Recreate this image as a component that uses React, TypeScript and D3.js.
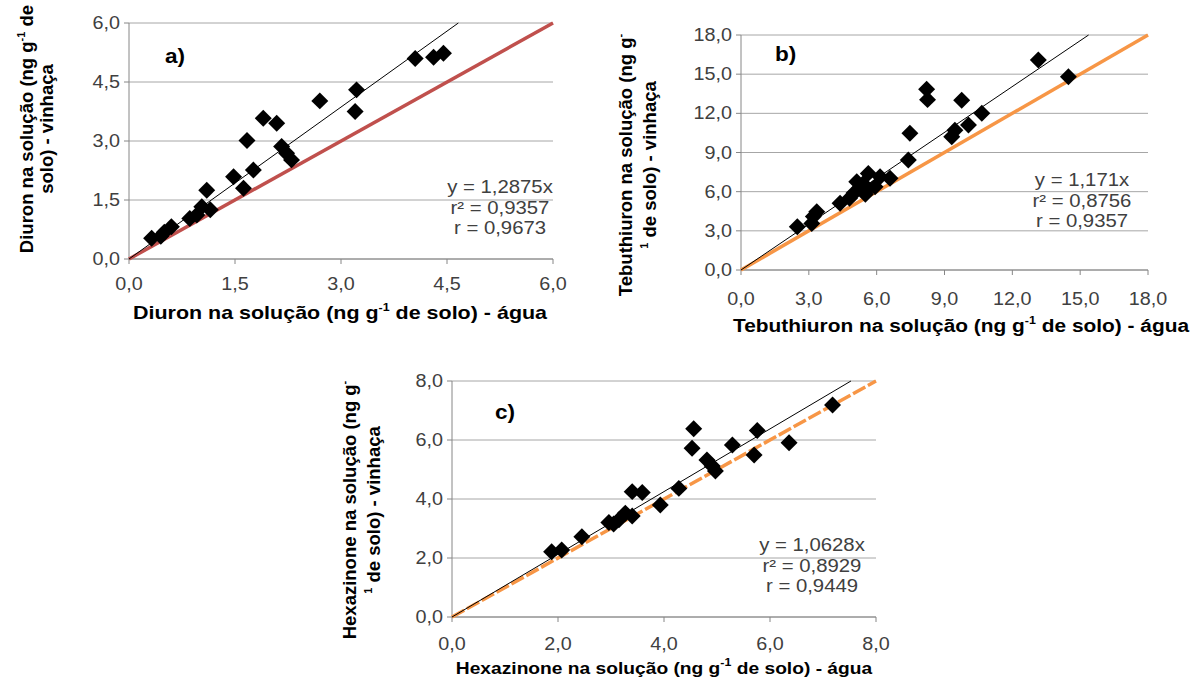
import React from "react";
import * as d3 from "d3";

// ---------- Data ----------
const diuronAgua = [0.32, 0.45, 0.5, 0.6, 0.86, 0.96, 1.03, 1.1, 1.15, 1.48, 1.62, 1.76, 1.67, 1.9, 2.09, 2.16, 2.23, 2.3, 2.7, 3.22, 3.2, 4.05, 4.31, 4.45];
const diuronVinhaca = [0.53, 0.58, 0.68, 0.82, 1.03, 1.12, 1.33, 1.75, 1.25, 2.09, 1.8, 2.26, 3.01, 3.58, 3.45, 2.86, 2.69, 2.52, 4.02, 4.3, 3.75, 5.1, 5.13, 5.23];

const tebuAgua = [2.49, 3.13, 3.2, 3.35, 4.38, 4.8, 5.0, 5.12, 5.26, 5.5, 5.63, 5.56, 5.93, 6.15, 6.59, 5.4, 7.4, 7.47, 8.21, 8.25, 9.32, 9.46, 9.76, 10.06, 10.65, 13.15, 14.48];
const tebuVinhaca = [3.32, 3.57, 4.1, 4.47, 5.11, 5.5, 5.9, 6.76, 6.3, 5.8, 7.4, 6.1, 6.38, 7.14, 7.02, 6.6, 8.42, 10.47, 13.85, 13.05, 10.2, 10.7, 13.0, 11.1, 12.0, 16.08, 14.8];

const hexaAgua = [1.88, 2.07, 2.45, 2.96, 3.05, 3.15, 3.27, 3.4, 3.4, 3.59, 3.93, 4.28, 4.56, 4.53, 4.81, 4.91, 4.97, 5.29, 5.7, 5.76, 6.36, 7.18];
const hexaVinhaca = [2.21, 2.27, 2.72, 3.2, 3.15, 3.3, 3.52, 3.42, 4.25, 4.22, 3.8, 4.36, 6.38, 5.72, 5.32, 5.12, 4.95, 5.83, 5.49, 6.32, 5.91, 7.19];

const ticksA = [0, 1.5, 3, 4.5, 6];
const ticksB = [0, 3, 6, 9, 12, 15, 18];
const ticksC = [0, 2, 4, 6, 8];

const slopes = [1.2875, 1.171, 1.0628];
const equationsA = ["y = 1,2875x", "r² = 0,9357", "r = 0,9673"];
const equationsB = ["y = 1,171x", "r² = 0,8756", "r = 0,9357"];
const equationsC = ["y = 1,0628x", "r² = 0,8929", "r = 0,9449"];

const FONT = "'Liberation Sans', Arial, sans-serif";
const SX = 1.13; // horizontal stretch of the reference picture
const fmt = (v: number) => d3.format(".1f")(v).replace(".", ",");

type HTextProps = {
  x: number; y: number; anchor?: string; size: number; bold?: boolean; fill?: string; children: React.ReactNode;
};
const HText = ({ x, y, anchor = "start", size, bold, fill = "#000", children }: HTextProps) => (
  <g transform={`translate(${x},${y}) scale(${SX},1)`}>
    <text x={0} y={0} textAnchor={anchor} fontSize={size} fontWeight={bold ? "bold" : "normal"} fill={fill}>
      {children}
    </text>
  </g>
);

type PanelProps = {
  left: number; right: number; top: number; bottom: number;
  ticks: number[];
  xs: number[]; ys: number[];
  slope: number;
  lineColor: string;
  dash?: string;
  label: string; labelX: number; labelY: number;
  eq: string[]; eqX: number; eqY: number;
  xTitle: React.ReactNode; xTitleX: number; xTitleY: number; xTitleSize: number;
  yTitle1: React.ReactNode; yTitle2: React.ReactNode; yTitleX1: number; yTitleX2: number; yTitleCY: number;
  xTickY: number;
};

const Panel = (p: PanelProps) => {
  const max = p.ticks[p.ticks.length - 1];
  const x = d3.scaleLinear().domain([0, max]).range([p.left, p.right]);
  const y = d3.scaleLinear().domain([0, max]).range([p.bottom, p.top]);
  const line = d3.line<[number, number]>().x((d) => x(d[0])).y((d) => y(d[1]));
  const xEnd = Math.min(max, max / p.slope);
  const diamond = d3.symbol(d3.symbolSquare, 144)()!;
  return (
    <g fontFamily={FONT}>
      {p.ticks.map((t) => (
        <line key={"g" + t} x1={p.left} x2={p.right} y1={y(t)} y2={y(t)} stroke="#a6a6a6" strokeWidth={1} />
      ))}
      <line x1={p.left} x2={p.left} y1={p.top} y2={p.bottom} stroke="#868686" strokeWidth={1} />
      <line x1={p.left} x2={p.right} y1={p.bottom} y2={p.bottom} stroke="#868686" strokeWidth={1} />
      {p.ticks.map((t) => (
        <g key={"t" + t}>
          <line x1={p.left - 5} x2={p.left} y1={y(t)} y2={y(t)} stroke="#868686" />
          <line x1={x(t)} x2={x(t)} y1={p.bottom} y2={p.bottom + 5} stroke="#868686" />
          <HText x={p.left - 9} y={y(t) + 6} anchor="end" size={17.5} fill="#404040">{fmt(t)}</HText>
          <HText x={x(t)} y={p.xTickY} anchor="middle" size={17.5} fill="#404040">{fmt(t)}</HText>
        </g>
      ))}
      <path d={line([[0, 0], [max, max]])!} stroke={p.lineColor} strokeWidth={3.5} fill="none" strokeDasharray={p.dash} />
      <path d={line([[0, 0], [xEnd, xEnd * p.slope]])!} stroke="#000" strokeWidth={1} fill="none" />
      {p.xs.map((v, i) => (
        <path key={"p" + i} d={diamond} transform={`translate(${x(v)},${y(p.ys[i])}) rotate(45)`} fill="#000" />
      ))}
      <HText x={p.labelX} y={p.labelY} size={20} bold>{p.label}</HText>
      {p.eq.map((s, i) => (
        <HText key={"e" + i} x={p.eqX} y={p.eqY + i * 20.5} anchor="middle" size={18} fill="#404040">{s}</HText>
      ))}
      <HText x={p.xTitleX} y={p.xTitleY} anchor="middle" size={p.xTitleSize} bold>{p.xTitle}</HText>
      <text transform={`translate(${p.yTitleX1},${p.yTitleCY}) rotate(-90)`} textAnchor="middle" fontSize={18.5} fontWeight="bold" fill="#000">{p.yTitle1}</text>
      <text transform={`translate(${p.yTitleX2},${p.yTitleCY}) rotate(-90)`} textAnchor="middle" fontSize={18.5} fontWeight="bold" fill="#000">{p.yTitle2}</text>
    </g>
  );
};

const sup = (s: string) => (
  <tspan fontSize={11} dy={-8}>{s}</tspan>
);
const back = (s: string) => <tspan dy={8}>{s}</tspan>;

export default function App() {
  return (
    <svg width={1194} height={678} style={{ position: "absolute", left: 0, top: 0, background: "#fff" }}>
      <Panel
        left={129} right={553} top={23} bottom={259} ticks={ticksA}
        xs={diuronAgua} ys={diuronVinhaca} slope={slopes[0]} lineColor="#c0504d"
        label="a)" labelX={165} labelY={63}
        eq={equationsA} eqX={500} eqY={193}
        xTitle={<>Diuron na solução (ng g{sup("-1")}{back(" de solo) - água")}</>} xTitleX={340} xTitleY={319} xTitleSize={19}
        yTitle1={<>Diuron na solução (ng g{sup("-1")}{back(" de")}</>} yTitle2={"solo) - vinhaça"}
        yTitleX1={33} yTitleX2={53} yTitleCY={129} xTickY={290}
      />
      <Panel
        left={741} right={1148} top={35} bottom={270} ticks={ticksB}
        xs={tebuAgua} ys={tebuVinhaca} slope={slopes[1]} lineColor="#f79646"
        label="b)" labelX={775} labelY={61}
        eq={equationsB} eqX={1082} eqY={186}
        xTitle={<>Tebuthiuron na solução (ng g{sup("-1")}{back(" de solo) - água")}</>} xTitleX={961} xTitleY={332} xTitleSize={18.5}
        yTitle1={<>Tebuthiuron na solução (ng g{sup("-")}</>} yTitle2={<>{sup("1")}{back(" de solo) - vinhaça")}</>}
        yTitleX1={632} yTitleX2={656} yTitleCY={165} xTickY={305}
      />
      <Panel
        left={452} right={876} top={381} bottom={617} ticks={ticksC}
        xs={hexaAgua} ys={hexaVinhaca} slope={slopes[2]} lineColor="#f79646" dash="14 3"
        label="c)" labelX={495} labelY={419}
        eq={equationsC} eqX={812} eqY={551}
        xTitle={<>Hexazinone na solução (ng g{sup("-1")}{back(" de solo) - água")}</>} xTitleX={664} xTitleY={674} xTitleSize={17}
        yTitle1={<>Hexazinone na solução (ng g{sup("-")}</>} yTitle2={<>{sup("1")}{back(" de solo) - vinhaça")}</>}
        yTitleX1={356} yTitleX2={380} yTitleCY={510} xTickY={650}
      />
    </svg>
  );
}
